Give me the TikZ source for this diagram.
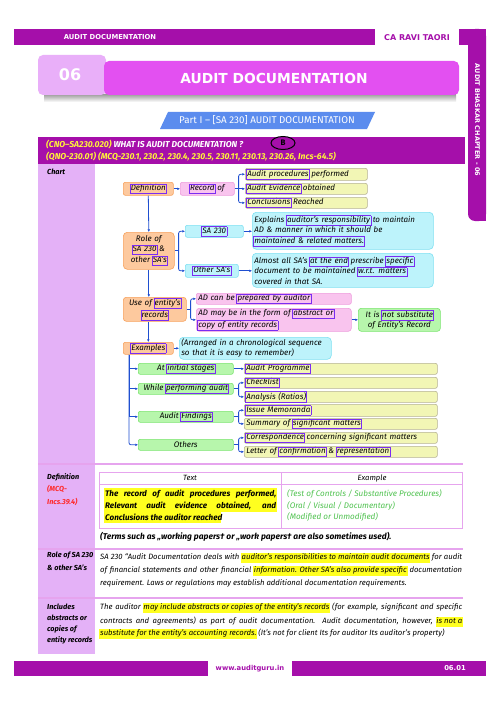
\documentclass[tikz,border=0pt]{standalone}
\usepackage{fontspec}
\setmainfont{Fira Sans}
\newfontfamily\hdrfont{DejaVu Sans}
\usetikzlibrary{arrows.meta,calc}
\definecolor{mag}{HTML}{A50FAA}
\definecolor{tpink}{HTML}{E350F1}
\definecolor{cbox}{HTML}{E9AFF9}
\definecolor{lcol}{HTML}{E4B1F7}
\definecolor{pblue}{HTML}{5B8CEE}
\definecolor{ofill}{HTML}{FDC99E}
\definecolor{odraw}{HTML}{F7A25E}
\definecolor{pfill}{HTML}{F9C4EE}
\definecolor{pdraw}{HTML}{EE9CDD}
\definecolor{yfill}{HTML}{F2F6B5}
\definecolor{ydraw}{HTML}{B5B292}
\definecolor{cfill}{HTML}{BDF3FB}
\definecolor{cdraw}{HTML}{7FE0F2}
\definecolor{gfill}{HTML}{B7F6AC}
\definecolor{gdraw}{HTML}{7AE46E}
\definecolor{cline}{HTML}{1F4FD0}
\definecolor{annot}{HTML}{7B2CF2}
\definecolor{tblc}{HTML}{E6A4EE}
\definecolor{hly}{HTML}{FFFF1F}
\definecolor{hyel}{HTML}{FFF23A}
\definecolor{gtxt}{HTML}{4FC24F}
\definecolor{mcqred}{HTML}{FF2A2A}
\newcommand\cf{\fontsize{8}{10.2}\selectfont\itshape}
\newcommand\rf{\fontsize{7.7}{9}\selectfont\itshape}
\newcommand\pbx[1]{{\fboxsep=0.4pt\fboxrule=0.7pt\color{annot}\hspace{-1.1pt}\fbox{\color{black}\rule[-2.1pt]{0pt}{7.6pt}#1}\hspace{-1.1pt}}}
\newcommand\yhl[1]{{\fboxsep=0.8pt\hspace{-0.8pt}\colorbox{hly}{\rule[-2.4pt]{0pt}{7.8pt}#1}\hspace{-0.8pt}}}
\newcommand\bx[7][]{%
 \pgfmathsetmacro\bxw{#5-#3-4}%
 \pgfmathsetmacro\bxh{#6-#4}%
 \node[#1, anchor=north west, text width=\bxw pt, minimum height=\bxh pt] (#2) at (#3,#4) {#7};}
\begin{document}
\begin{tikzpicture}[x=1pt,y=-1pt,
 ln/.style={draw=cline, line width=0.8pt},
 arr/.style={ln, -{Latex[length=2.6pt,width=2.6pt]}},
 box/.style={draw, line width=0.6pt, rounded corners=2pt, inner xsep=2pt, inner ysep=0pt, font=\cf},
 ob/.style={box, fill=ofill, draw=odraw, align=center},
 pkb/.style={box, fill=pfill, draw=pdraw, align=left},
 yb/.style={box, fill=yfill, draw=ydraw, align=left},
 cb/.style={box, fill=cfill, draw=cdraw, align=left},
 cbc/.style={box, fill=cfill, draw=cdraw, align=center},
 gb/.style={box, fill=gfill, draw=gdraw, align=center},
 lab/.style={anchor=west, inner sep=0pt, font=\bfseries\itshape\fontsize{7.3}{8}\selectfont},
 rowl/.style={anchor=west, inner sep=0pt, font=\rf},
 brow/.style={anchor=west, inner sep=0pt, font=\bfseries\itshape\fontsize{8.1}{9}\selectfont},
 sepl/.style={draw=tblc, line width=1.2pt},
 tbl/.style={draw=tblc, line width=0.7pt}
]
\useasboundingbox (0,0) rectangle (500,706);
\fill[white] (0,0) rectangle (500,706);

% ---- page header
\fill[mag] (14,29) rectangle (375,45);
\fill[mag, rounded corners=7pt] (468,29) rectangle (486,221);
\fill[mag] (477,29) rectangle (486,221);
\fill[mag] (459,29) rectangle (486,45);
\node[inner sep=0pt, text=white, font=\hdrfont\bfseries\fontsize{6.8}{8}\selectfont] (tbt) at (110,37.5) {AUDIT DOCUMENTATION};
\node[inner sep=0pt, text=mag, font=\hdrfont\bfseries\fontsize{8}{9}\selectfont] (cra) at (417,37.5) {CA RAVI TAORI};
\node[inner sep=0pt, text=white, rotate=-90, font=\hdrfont\bfseries\fontsize{6.5}{7}\selectfont] (vt) at (477.5,120) {AUDIT BHASKAR CHAPTER - 06};

\shade[top color=black!35, bottom color=white] (44,95) rectangle (456,102);
\fill[cbox, rounded corners=5pt] (38,55) rectangle (106,95);
\fill[tpink, rounded corners=5pt] (104,61) rectangle (459,95);
\node[inner sep=0pt, text=white, font=\hdrfont\bfseries\fontsize{16}{18}\selectfont] (n06) at (70,75) {06};
\node[inner sep=0pt, text=white, font=\hdrfont\bfseries\fontsize{13.8}{15}\selectfont] (ttl) at (274,78.5) {AUDIT DOCUMENTATION};

\fill[pblue] (168,112) -- (375,112) -- (367,129) -- (160,129) -- cycle;
\node[inner sep=0pt, text=white, font=\fontsize{9.8}{11}\selectfont] (part) at (267,120.5) {Part I -- [SA 230] AUDIT DOCUMENTATION};

\fill[mag] (38,137) rectangle (465,164);
\node[anchor=west, inner sep=0pt, font=\bfseries\itshape\fontsize{8.6}{9}\selectfont] (q1) at (46,144) {\color{hyel}(CNO--SA230.020) \color{white}WHAT IS AUDIT DOCUMENTATION ?};
\node[anchor=west, inner sep=0pt, font=\bfseries\itshape\fontsize{8.6}{9}\selectfont, text=hyel] (q2) at (46,157) {(QNO-230.01) (MCQ-230.1, 230.2, 230.4, 230.5, 230.11, 230.13, 230.26, Incs-64.5)};
\draw[line width=1pt] (283,143) ellipse [x radius=12, y radius=6.5];
\node[inner sep=0pt, font=\bfseries\fontsize{8}{8}\selectfont] (bb) at (283,143) {B};

% ---- left column and separators
\fill[lcol] (38,164) rectangle (95,654);
\draw[sepl] (38,464) -- (463,464);
\draw[sepl] (38,549) -- (463,549);
\draw[sepl] (38,598) -- (463,598);

\node[lab] (lc) at (47,172) {Chart};
\node[lab] (ld1) at (47,477) {Definition};
\node[lab, text=mcqred] (ld2) at (47,489) {(MCQ-};
\node[lab, text=mcqred] (ld3) at (47,502) {Incs.39.4)};
\node[lab] (lr1) at (47,556) {Role of SA 230};
\node[lab] (lr2) at (47,568) {\& other SA's};
\node[lab] (li1) at (47,607) {Includes};
\node[lab] (li2) at (47,618) {abstracts or};
\node[lab] (li3) at (47,629) {copies of};
\node[lab] (li4) at (47,640) {entity records};

% ---- chart
\bx[ob]{def}{123}{182}{173}{195}{\pbx{Definition}}
\bx[pkb, align=center]{rec}{180}{182}{234}{195}{\pbx{Record} of}
\bx[yb]{ap}{245}{168}{367}{180}{\pbx{Audit procedures} performed}
\bx[yb]{ae}{245}{183}{367}{194}{\pbx{Audit Evidence} obtained}
\bx[yb]{cr}{245}{197}{367}{208}{\pbx{Conclusions} Reached}
\bx[ob, rounded corners=4pt]{role}{123}{232}{174}{269}{Role of\\\pbx{SA 230} \&\\other \pbx{SA's}}
\bx[cbc]{sa}{185}{225}{243}{237}{\pbx{SA 230}}
\bx[cbc]{osa}{185}{264}{238}{277}{\pbx{Other SA's}}
\bx[cb, rounded corners=4pt]{exp}{252}{212}{433}{249}{Explains \pbx{auditor's responsibility} to maintain\\AD \& manner in which it should be\\\pbx{maintained \& related matters.}}
\bx[cb, rounded corners=4pt]{alm}{252}{253}{433}{287}{Almost all SA's \pbx{at the end} prescribe \pbx{specific}\\document to be maintained \pbx{w.r.t. matters}\\covered in that SA.}
\bx[ob, rounded corners=3pt]{use}{123}{297}{186}{321}{Use of \pbx{entity's}\\\pbx{records}}
\bx[pkb]{adp}{196}{293}{351}{304}{AD can be \pbx{prepared by auditor}}
\bx[pkb, rounded corners=3pt]{adm}{196}{308}{351}{331}{AD may be in the form of \pbx{abstract or}\\\pbx{copy of entity records}}
\bx[gb, rounded corners=3pt]{nsub}{358}{308}{440}{331}{It is \pbx{not substitute}\\of Entity's Record}
\bx[ob]{exm}{123}{342}{173}{354}{\pbx{Examples}}
\bx[cb, rounded corners=4pt]{arb}{179}{337}{331}{359}{(Arranged in a chronological sequence\\so that it is easy to remember)}
\bx[gb]{ini}{138}{363}{233}{374}{At \pbx{initial stages}}
\bx[gb]{whl}{138}{383}{233}{394}{While \pbx{performing audit}}
\bx[gb]{fnd}{138}{411}{233}{422}{Audit \pbx{Findings}}
\bx[gb]{oth}{138}{439}{233}{450}{Others}
\bx[yb]{apg}{244}{363}{437}{374}{\pbx{Audit Programme}}
\bx[yb]{chk}{244}{377}{437}{388}{\pbx{Checklist}}
\bx[yb]{ana}{244}{391}{437}{402}{\pbx{Analysis (Ratios)}}
\bx[yb]{ism}{244}{404}{437}{416}{\pbx{Issue Memoranda}}
\bx[yb]{sum}{244}{418}{437}{429}{Summary of \pbx{significant matters}}
\bx[yb]{cor}{244}{432}{437}{443}{\pbx{Correspondence} concerning significant matters}
\bx[yb]{let}{244}{446}{437}{457}{Letter of \pbx{confirmation} \& \pbx{representation}}

% connectors
\draw[arr] (def.east) -- (rec.west);
\coordinate (b1) at ($(rec.east)+(4,0)$);
\draw[ln] (rec.east) -- (b1);
\draw[arr, rounded corners=2pt] (b1) |- (ap.west);
\draw[arr, rounded corners=2pt] (b1) |- (cr.west);
\draw[arr] (b1 |- ae.west) -- (ae.west);
\draw[arr] (def.south) -- (role.north);
\coordinate (b2) at ($(role.east)+(4,0)$);
\draw[ln] (role.east) -- (b2);
\draw[arr, rounded corners=2pt] (b2) |- (sa.west);
\draw[arr, rounded corners=2pt] (b2) |- (osa.west);
\draw[arr] (sa.east) -- (sa.east -| exp.west);
\draw[arr] (osa.east) -- (osa.east -| alm.west);
\draw[arr] (role.south) -- (role.south |- use.north);
\coordinate (b3) at ($(use.east)+(4,0)$);
\draw[ln] (use.east) -- (b3);
\draw[arr, rounded corners=2pt] (b3) |- (adp.west);
\draw[arr, rounded corners=2pt] (b3) |- (adm.west);
\draw[arr] (adm.east) -- (adm.east -| nsub.west);
\draw[arr] (use.south -| exm.north) -- (exm.north);
\draw[arr] (exm.east) -- (exm.east -| arb.west);
\coordinate (v) at ($(exm.south west)+(6,0)$);
\draw[ln] (v) -- (v |- fnd.west);
\draw[arr] (v |- ini.west) -- (ini.west);
\draw[arr] (v |- whl.west) -- (whl.west);
\draw[arr] (v |- fnd.west) -- (fnd.west);
\draw[arr, rounded corners=2pt] (v) |- (oth.west);
\draw[arr] (ini.east) -- (ini.east -| apg.west);
\coordinate (b4) at ($(whl.east)+(5,0)$);
\draw[ln] (whl.east) -- (b4);
\draw[arr, rounded corners=2pt] (b4) |- (chk.west);
\draw[arr, rounded corners=2pt] (b4) |- (ana.west);
\coordinate (b5) at ($(fnd.east)+(5,0)$);
\draw[ln] (fnd.east) -- (b5);
\draw[arr, rounded corners=2pt] (b5) |- (ism.west);
\draw[arr, rounded corners=2pt] (b5) |- (sum.west);
\coordinate (b6) at ($(oth.east)+(5,0)$);
\draw[ln] (oth.east) -- (b6);
\draw[arr, rounded corners=2pt] (b6) |- (cor.west);
\draw[arr, rounded corners=2pt] (b6) |- (let.west);

% ---- definition table
\draw[tbl] (99,472) rectangle (462,528);
\draw[tbl] (99,484) -- (462,484);
\draw[tbl] (281,472) -- (281,528);
\node[inner sep=0pt, font=\fontsize{7.6}{8}\selectfont\itshape] (th1) at (190,478) {Text};
\node[inner sep=0pt, font=\fontsize{7.6}{8}\selectfont\itshape] (th2) at (372,478) {Example};
\fill[hly] (104,488) rectangle (277,500);
\fill[hly] (104,500) rectangle (277,511.5);
\fill[hly] (104,511.5) rectangle (221,523);
\node[brow] (dl1) at (105,494) {\makebox[171pt][s]{The record of audit procedures performed,}};
\node[brow] (dl2) at (105,506) {\makebox[171pt][s]{Relevant audit evidence obtained, and}};
\node[brow] (dl3) at (105,517) {Conclusions the auditor reached};
\node[rowl, text=gtxt, font=\fontsize{8.1}{9}\selectfont\itshape] (de1) at (287,494) {(Test of Controls / Substantive Procedures)};
\node[rowl, text=gtxt, font=\fontsize{8.1}{9}\selectfont\itshape] (de2) at (287,506) {(Oral / Visual / Documentary)};
\node[rowl, text=gtxt, font=\fontsize{8.1}{9}\selectfont\itshape] (de3) at (287,517) {(Modified or Unmodified)};
\node[brow, font=\bfseries\itshape\fontsize{8.4}{9}\selectfont] (terms) at (100,537) {(Terms such as ,,working papers† or ,,work papers† are also sometimes used).};

% ---- role row
\node[rowl] (r1) at (100,558) {\makebox[362pt][s]{SA 230 “Audit Documentation deals with \yhl{auditor's responsibilities to maintain audit documents} for audit}};
\node[rowl] (r2) at (100,571) {\makebox[362pt][s]{of financial statements and other financial \yhl{information. Other SA's also provide specific} documentation}};
\node[rowl] (r3) at (100,583) {requirement. Laws or regulations may establish additional documentation requirements.};

% ---- includes row
\node[rowl] (i1) at (100,608) {\makebox[362pt][s]{The auditor \yhl{may include abstracts or copies of the entity's records} (for example, significant and specific}};
\node[rowl] (i2) at (100,622) {\makebox[362pt][s]{contracts and agreements) as part of audit documentation. Audit documentation, however, \yhl{is not a}}};
\node[rowl] (i3) at (100,634) {\yhl{substitute for the entity's accounting records.} (It's not for client Its for auditor Its auditor's property)};

% ---- footer
\fill[mag] (14,661) rectangle (208,676);
\fill[mag] (292,661) rectangle (486,676);
\node[inner sep=0pt, text=mag, font=\hdrfont\bfseries\fontsize{6.8}{8}\selectfont] (web) at (250,668.5) {www.auditguru.in};
\node[inner sep=0pt, text=white, font=\hdrfont\bfseries\fontsize{6.8}{8}\selectfont] (pg) at (455,668.5) {06.01};
\end{tikzpicture}
\end{document}
